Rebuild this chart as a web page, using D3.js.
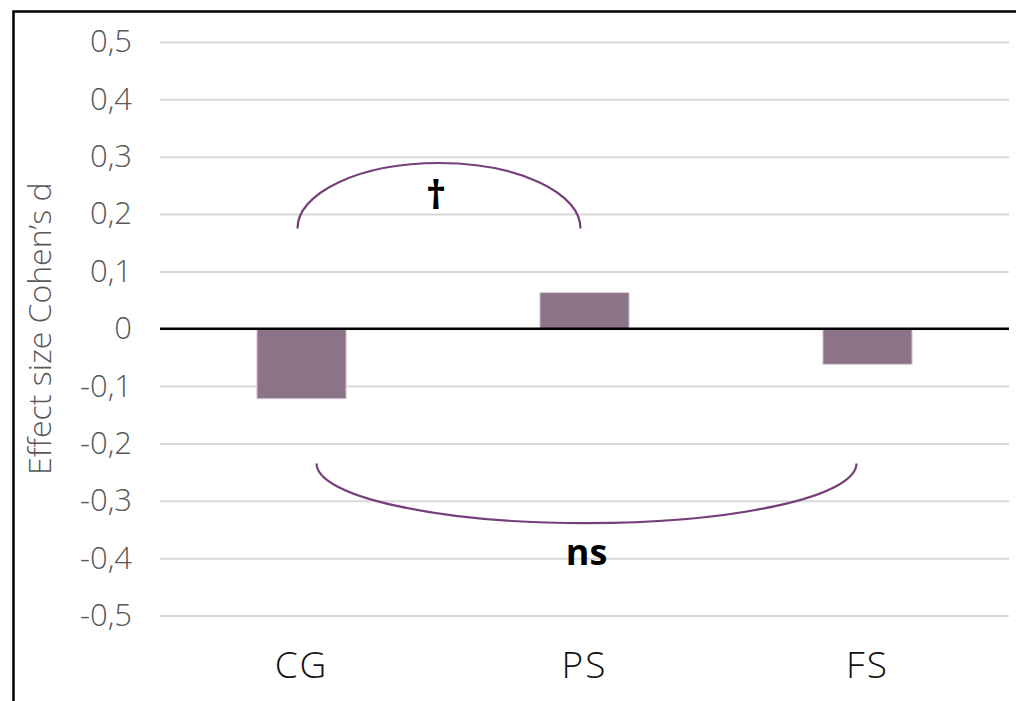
<!DOCTYPE html>
<html>
<head>
<meta charset="utf-8">
<script src="https://cdn.jsdelivr.net/npm/d3@7"></script>
<style>
  html, body { margin: 0; padding: 0; background: #fff; }
  svg { display: block; font-family: "Open Sans", "Noto Sans", sans-serif; }
</style>
</head>
<body>
<svg id="chart" width="1016" height="701"></svg>
<script>
// Groups and their effect sizes (Cohen's d)
const categories = ["CG", "PS", "FS"];
const effectSizes = [-0.122, 0.063, -0.062];

// Y-axis ticks
const tickValues = [0.5, 0.4, 0.3, 0.2, 0.1, 0, -0.1, -0.2, -0.3, -0.4, -0.5];
const tickLabels = ["0,5", "0,4", "0,3", "0,2", "0,1", "0", "-0,1", "-0,2", "-0,3", "-0,4", "-0,5"];

// Comparison brackets between groups
const bracketFrom = ["CG", "CG"];
const bracketTo = ["PS", "FS"];
const bracketBase = [0.175, -0.235];
const bracketPeak = [0.289, -0.339];
const bracketLabels = ["†", "ns"];
const bracketLabelY = [0.228, -0.395];

const axisTitle = "Effect size Cohen’s d";

const svg = d3.select("#chart");
const W = 1016, H = 701;
const plot = { left: 160, right: 1009, top: 42, bottom: 615.5 };

const y = d3.scaleLinear().domain([-0.5, 0.5]).range([plot.bottom, plot.top]);
const x = d3.scaleBand().domain(categories).range([plot.left, plot.right])
  .paddingInner(0.685).paddingOuter(0.3425);
const center = c => x(c) + x.bandwidth() / 2;

// Frame on the left and top
svg.append("path")
  .attr("d", `M13.5,${H} L13.5,11.5 L${W},11.5`)
  .attr("fill", "none").attr("stroke", "#000").attr("stroke-width", 2.5);

// Gridlines and tick labels
const yAxis = d3.axisLeft(y).tickValues(tickValues)
  .tickSize(-(plot.right - plot.left))
  .tickFormat((d, i) => tickLabels[i]).tickPadding(28);
const gy = svg.append("g").attr("transform", `translate(${plot.left},0)`).call(yAxis);
gy.select(".domain").remove();
gy.selectAll(".tick line").attr("stroke", "#d9d9d9").attr("stroke-width", 2);
gy.selectAll(".tick text").attr("fill", "#595959").attr("font-size", 31)
  .attr("font-weight", 300).attr("font-family", "'Open Sans', sans-serif");

// Bars
svg.append("g").selectAll("rect").data(categories).join("rect")
  .attr("x", d => x(d))
  .attr("width", x.bandwidth())
  .attr("y", (d, i) => y(Math.max(0, effectSizes[i])))
  .attr("height", (d, i) => Math.abs(y(effectSizes[i]) - y(0)))
  .attr("fill", "#8b7388")
  .attr("stroke", "#dacbd8").attr("stroke-width", 1);

// Zero line
svg.append("line")
  .attr("x1", plot.left).attr("x2", plot.right)
  .attr("y1", y(0)).attr("y2", y(0))
  .attr("stroke", "#000").attr("stroke-width", 2.5);

// Category labels
const xAxis = d3.axisBottom(x).tickSize(0).tickPadding(0);
const gx = svg.append("g").attr("transform", `translate(0,${plot.bottom + 36})`).call(xAxis);
gx.select(".domain").remove();
gx.selectAll(".tick text").attr("fill", "#111").attr("font-size", 37)
  .attr("font-weight", 300).attr("letter-spacing", 2)
  .attr("font-family", "'Open Sans', sans-serif");

// Y-axis title
svg.append("text")
  .attr("transform", `translate(51,${y(0)}) rotate(-90)`)
  .attr("text-anchor", "middle")
  .attr("fill", "#595959").attr("font-size", 32).attr("font-weight", 300)
  .text(axisTitle);

// Brackets with significance markers
const insetStart = [-4, 15];
const insetEnd = [-4, -11];
bracketFrom.forEach((from, i) => {
  const x1 = center(from) + insetStart[i];
  const x2 = center(bracketTo[i]) + insetEnd[i];
  const yb = y(bracketBase[i]);
  const yp = y(bracketPeak[i]);
  const rx = (x2 - x1) / 2;
  const ry = Math.abs(yp - yb);
  const sweep = yp < yb ? 1 : 0;
  svg.append("path")
    .attr("d", `M${x1},${yb} A${rx},${ry} 0 0 ${sweep} ${x2},${yb}`)
    .attr("fill", "none").attr("stroke", "#763f7b").attr("stroke-width", 2.2);
  svg.append("text")
    .attr("x", (x1 + x2) / 2 - (i === 0 ? 3 : 0))
    .attr("y", y(bracketLabelY[i]))
    .attr("text-anchor", "middle").attr("dominant-baseline", "middle")
    .attr("font-size", i === 0 ? 40 : 36).attr("font-weight", 700).attr("fill", "#000")
    .text(bracketLabels[i]);
});
</script>
</body>
</html>
